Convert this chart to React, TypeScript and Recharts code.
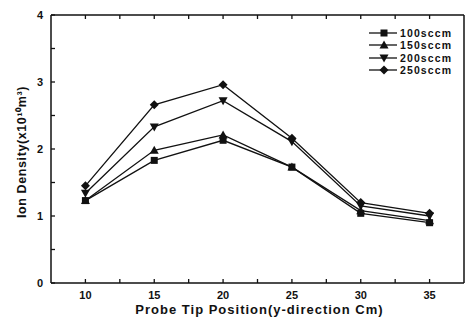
import React from 'react';
import { LineChart, Line, XAxis, YAxis, Legend } from 'recharts';

const positions = [10, 15, 20, 25, 30, 35];
const s100 = [1.23, 1.83, 2.13, 1.73, 1.04, 0.9];
const s150 = [1.23, 1.98, 2.21, 1.73, 1.08, 0.93];
const s200 = [1.34, 2.33, 2.72, 2.11, 1.15, 1.0];
const s250 = [1.45, 2.66, 2.96, 2.16, 1.2, 1.04];
const seriesNames = ['100sccm', '150sccm', '200sccm', '250sccm'];
const seriesKeys = ['s100', 's150', 's200', 's250'];
const shapes = ['square', 'triangleUp', 'triangleDown', 'diamond'];
const xTicks = [10, 12.5, 15, 17.5, 20, 22.5, 25, 27.5, 30, 32.5, 35];
const yTicks = [0, 0.5, 1, 1.5, 2, 2.5, 3, 3.5, 4];
const xTitle = 'Probe Tip Position(y-direction Cm)';
const yTitle = 'Ion Density(x10¹⁰m³)';

const data = positions.map((p, i) => ({
  x: p,
  s100: s100[i],
  s150: s150[i],
  s200: s200[i],
  s250: s250[i],
}));

const FONT = '"Liberation Sans", Arial, sans-serif';
const INK = '#111';
const X_DOMAIN: [number, number] = [7.5, 37.5];
const Y_DOMAIN: [number, number] = [0, 4];

function Marker({ cx, cy, shape }: { cx: number; cy: number; shape: string }) {
  if (cx == null || cy == null) return null;
  if (shape === 'square') {
    return <rect x={cx - 3.5} y={cy - 3.5} width={7} height={7} fill={INK} />;
  }
  if (shape === 'triangleUp') {
    return <polygon points={`${cx},${cy - 4.5} ${cx - 4.5},${cy + 3.5} ${cx + 4.5},${cy + 3.5}`} fill={INK} />;
  }
  if (shape === 'triangleDown') {
    return <polygon points={`${cx},${cy + 4.5} ${cx - 4.5},${cy - 3.5} ${cx + 4.5},${cy - 3.5}`} fill={INK} />;
  }
  return <polygon points={`${cx},${cy - 4.5} ${cx + 4.5},${cy} ${cx},${cy + 4.5} ${cx - 4.5},${cy}`} fill={INK} />;
}

const isMajorX = (v: number) => v % 5 === 0;
const isMajorY = (v: number) => v % 1 === 0;

function BottomTick(props: any) {
  const { x, y, payload } = props;
  if (!isMajorX(payload.value)) return <g />;
  return (
    <text x={x} y={y} dy="0.71em" textAnchor="middle" fontSize={11} fontWeight="bold" fontFamily={FONT} fill={INK}>
      {payload.value}
    </text>
  );
}

function LeftTick(props: any) {
  const { x, y, payload } = props;
  if (!isMajorY(payload.value)) return <g />;
  return (
    <text x={x} y={y} dy="0.35em" textAnchor="end" fontSize={11} fontWeight="bold" fontFamily={FONT} fill={INK}>
      {payload.value}
    </text>
  );
}

const EmptyTick = () => <g />;

function LegendContent() {
  return (
    <div style={{ display: 'flex', flexDirection: 'column' }}>
      {seriesNames.map((name, i) => (
        <div key={name} style={{ display: 'flex', alignItems: 'center', height: 12.3 }}>
          <svg width={30} height={12} style={{ display: 'block' }}>
            <line x1={1} x2={29} y1={6} y2={6} stroke={INK} strokeWidth={1.3} />
            <Marker cx={16} cy={6} shape={shapes[i]} />
          </svg>
          <span style={{ fontFamily: FONT, fontSize: 10.5, fontWeight: 'bold', letterSpacing: 1.1, color: INK, marginLeft: 2, lineHeight: '12px' }}>
            {name}
          </span>
        </div>
      ))}
    </div>
  );
}

const axisLineStyle = { stroke: INK, strokeWidth: 1.5 };
const tickLineStyle = { stroke: INK, strokeWidth: 1.3 };

export default function App() {
  return (
    <div style={{ position: 'absolute', left: 0, top: 0, width: 468, height: 322, background: '#fff' }}>
      <LineChart width={468} height={322} data={data} margin={{ top: 14, right: 3, bottom: 0, left: 0 }}>
        <XAxis
          dataKey="x"
          type="number"
          domain={X_DOMAIN}
          ticks={xTicks}
          interval={0}
          height={39}
          tickSize={-4}
          tickMargin={12}
          tickLine={tickLineStyle}
          stroke={INK}
          axisLine={axisLineStyle}
          tick={(p: any) => <BottomTick {...p} />}
          label={(p: any) => {
            const vb = p.viewBox;
            return (
              <text x={vb.x + vb.width / 2 + 2} y={314} textAnchor="middle" fontSize={13} fontWeight="bold" fontFamily={FONT} letterSpacing={1} fill={INK}>
                {xTitle}
              </text>
            );
          }}
        />
        <XAxis
          xAxisId="top"
          orientation="top"
          dataKey="x"
          type="number"
          domain={X_DOMAIN}
          ticks={xTicks}
          interval={0}
          height={1}
          tickSize={-4}
          tickLine={tickLineStyle}
          tick={(p: any) => <EmptyTick />}
          stroke={INK}
          axisLine={axisLineStyle}
        />
        <YAxis
          type="number"
          domain={Y_DOMAIN}
          ticks={yTicks}
          interval={0}
          width={51}
          tickSize={-4}
          tickMargin={12}
          tickLine={tickLineStyle}
          stroke={INK}
          axisLine={axisLineStyle}
          tick={(p: any) => <LeftTick {...p} />}
          label={(p: any) => {
            const vb = p.viewBox;
            const cy = vb.y + vb.height / 2 + 3;
            return (
              <text x={26} y={cy} transform={`rotate(-90, 26, ${cy})`} textAnchor="middle" fontSize={12.5} fontWeight="bold" fontFamily={FONT} letterSpacing={0.6} fill={INK}>
                {yTitle}
              </text>
            );
          }}
        />
        <YAxis
          yAxisId="right"
          orientation="right"
          type="number"
          domain={Y_DOMAIN}
          ticks={yTicks}
          interval={0}
          width={1}
          tickSize={-4}
          tickLine={tickLineStyle}
          tick={(p: any) => <EmptyTick />}
          stroke={INK}
          axisLine={axisLineStyle}
        />
        <Legend
          layout="vertical"
          verticalAlign="middle"
          align="center"
          content={<LegendContent />}
          wrapperStyle={{ position: 'absolute', left: 368, top: 27, width: 100 }}
        />
        {seriesKeys.map((k, i) => (
          <Line
            key={k}
            dataKey={k}
            name={seriesNames[i]}
            stroke={INK}
            strokeWidth={1.3}
            isAnimationActive={false}
            dot={(p: any) => <Marker key={`${k}-${p.index}`} cx={p.cx} cy={p.cy} shape={shapes[i]} />}
            activeDot={false}
          />
        ))}
      </LineChart>
    </div>
  );
}
